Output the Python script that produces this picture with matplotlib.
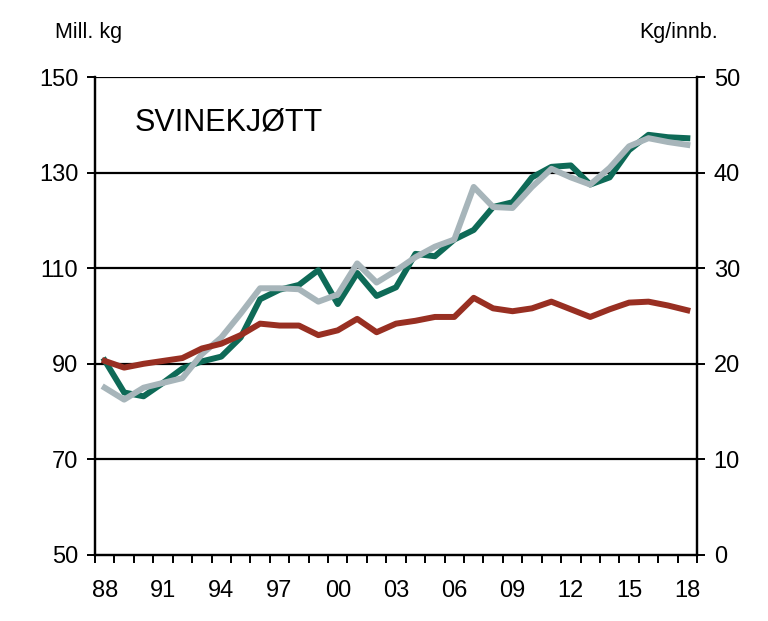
import matplotlib.pyplot as plt
import numpy as np
from matplotlib.ticker import FixedLocator

plt.rcParams['font.family'] = ['Liberation Sans', 'DejaVu Sans']

# data
years = list(range(1988, 2019))
produksjon = [90.7, 84.0, 83.2, 86.0, 89.0, 90.5, 91.5, 95.5, 103.5, 105.5, 106.5, 109.6,
              102.5, 109.0, 104.2, 106.0, 113.0, 112.5, 116.0, 118.0, 122.8, 123.8, 129.0,
              131.2, 131.5, 127.5, 129.0, 134.7, 137.9, 137.4, 137.2]
forbruk = [85.0, 82.5, 85.0, 86.0, 87.0, 92.0, 95.5, 100.5, 105.8, 105.8, 105.6, 103.0,
           104.5, 111.0, 107.0, 109.5, 112.3, 114.5, 116.0, 127.0, 122.8, 122.6, 127.0,
           130.8, 129.0, 127.5, 131.0, 135.5, 137.2, 136.4, 135.8]
kg_per_innb = [20.3, 19.6, 20.0, 20.3, 20.6, 21.6, 22.1, 23.0, 24.2, 24.0, 24.0, 23.0,
               23.5, 24.7, 23.3, 24.2, 24.5, 24.9, 24.9, 26.9, 25.8, 25.5, 25.8, 26.5,
               25.7, 24.9, 25.7, 26.4, 26.5, 26.1, 25.6]
xlabels = ['88', '91', '94', '97', '00', '03', '06', '09', '12', '15', '18']

x = np.arange(len(years))

fig = plt.figure(figsize=(7.68, 6.21), dpi=100)
ax = fig.add_axes([0.1237, 0.1063, 0.7839, 0.7697])
ax2 = ax.twinx()

ax.set_ylim(50, 150)
ax.set_xlim(-0.5, len(years) - 0.5)
ax2.set_ylim(0, 50)

# horizontal gridlines
for v in [70, 90, 110, 130, 150]:
    ax.axhline(v, color='black', lw=1.6, zorder=1)

ax.plot(x, produksjon, color='#0e6a57', lw=4.3, zorder=3)
ax.plot(x, forbruk, color='#a7b5ba', lw=4.3, zorder=4)
ax2.plot(x, kg_per_innb, color='#982f22', lw=4.3, zorder=3)

ax.set_yticks([50, 70, 90, 110, 130, 150])
ax2.set_yticks([0, 10, 20, 30, 40, 50])
ax.set_xticks(x[::3])
ax.set_xticklabels(xlabels)
ax.xaxis.set_minor_locator(FixedLocator(np.arange(-0.5, len(years), 1.0)))

for a in (ax, ax2):
    for s in a.spines.values():
        s.set_linewidth(1.6)
    a.spines['top'].set_visible(False)
    a.tick_params(axis='y', length=6, width=1.4, labelsize=17, pad=6)
ax.tick_params(axis='x', which='major', length=0, labelsize=17, pad=18)
ax.tick_params(axis='x', which='minor', length=6, width=1.4)

ax.text(0.065, 0.905, 'SVINEKJØTT', transform=ax.transAxes, fontsize=22, va='center')
fig.text(0.072, 0.948, 'Mill. kg', fontsize=15.5, va='center')
fig.text(0.935, 0.948, 'Kg/innb.', fontsize=15.5, va='center', ha='right')

fig.savefig('out.png', dpi=100)
